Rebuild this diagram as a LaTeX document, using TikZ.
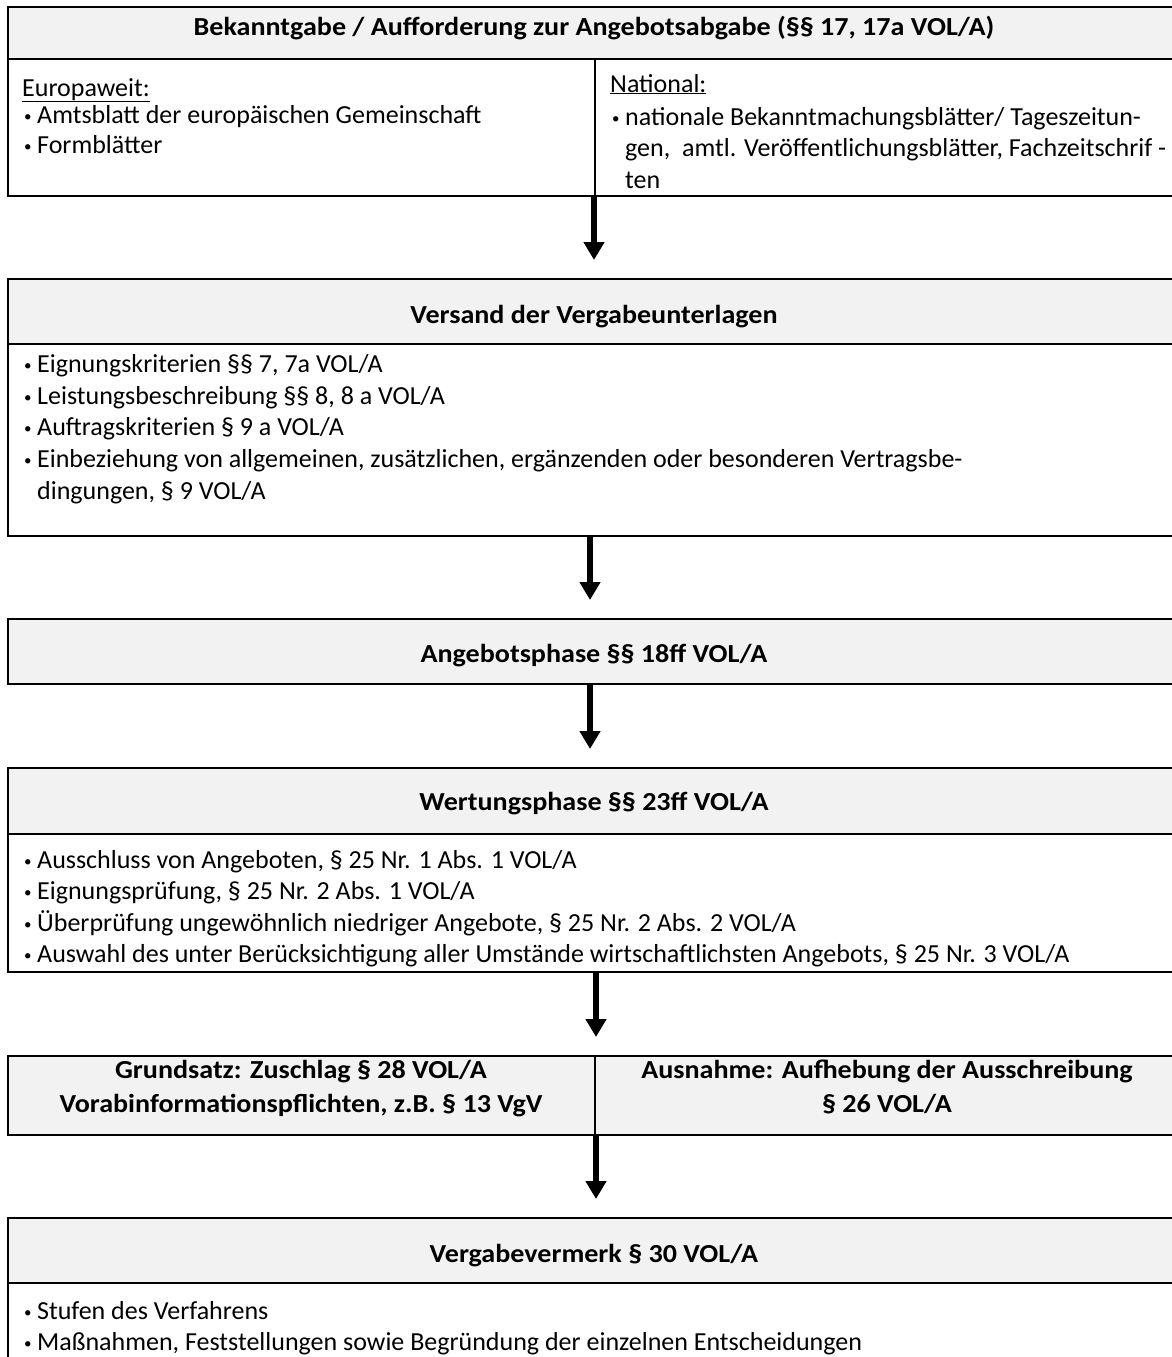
\documentclass[tikz,border=0pt]{standalone}
\usepackage{fontspec}
\setmainfont{Carlito}
\newfontfamily\hdfont{Carlito}[FakeStretch=1.08]
\usetikzlibrary{arrows.meta}
\definecolor{hdgray}{HTML}{F2F2F2}
\newcommand\bul{\makebox[13pt][l]{\raisebox{1.8pt}{\fontsize{15}{15}\selectfont •}}}
\tikzset{
  frame/.style={draw=black, line width=2.6pt, inner sep=0pt, outer sep=0pt, minimum width=1172pt},
  hdbox/.style={frame, fill=hdgray},
  bodybox/.style={frame, fill=white},
  divline/.style={draw=black, line width=1.5pt},
  hd/.style={anchor=base, inner sep=0pt, font=\fontsize{26}{31}\selectfont\hdfont\bfseries},
  tx/.style={anchor=base west, inner sep=0pt, font=\fontsize{26}{31}\selectfont},
  arr/.style={draw=black, line width=5.5pt, -{Triangle[length=18pt,width=20pt]}, shorten >=19pt},
}
\begin{document}
\begin{tikzpicture}[x=1pt,y=-1pt]
\useasboundingbox (0,0) rectangle (1172,1357);
\clip (0,0) rectangle (1172,1357);
% arrow x positions
\coordinate (ax1) at (594,0);
\coordinate (ax2) at (590,0);
\coordinate (ax4) at (596,0);

% ---------- Box 1
\node[bodybox, minimum height=137pt] (b1) at (594,127.5) {};
\node[hdbox, minimum height=52pt] (h1) at (594,33) {};
\draw[divline] (595,59) -- (595,196);
\node[hd] (t1) at (594,35) {Bekanntgabe / Aufforderung zur Angebotsabgabe (§§ 17, 17a VOL/A)};
\node[tx] (e0) at (22,96) {\underline{Europaweit:}};
\node[tx] (e1) at (24,123) {\bul Amtsblatt der europäischen Gemeinschaft};
\node[tx] (e2) at (24,153) {\bul Formblätter};
\node[tx] (n0) at (610,92) {\underline{National:}};
\node[tx] (n1) at (612,125) {\bul nationale Bekanntmachungsblätter/ Tageszeitun-};
\node[tx] (n2) at (625,156) {gen,\ \ amtl. Veröffentlichungsblätter, Fachzeitschrif -};
\node[tx] (n3) at (625,188) {ten};

% ---------- Box 2
\node[bodybox, minimum height=192pt] (b2) at (594,440) {};
\node[hdbox, minimum height=65pt] (h2) at (594,311.5) {};
\node[hd] (t2) at (594,323) {Versand der Vergabeunterlagen};
\node[tx] (v1) at (24,372) {\bul Eignungskriterien §§ 7, 7a VOL/A};
\node[tx] (v2) at (24,404) {\bul Leistungsbeschreibung §§ 8, 8 a VOL/A};
\node[tx] (v3) at (24,435) {\bul Auftragskriterien § 9 a VOL/A};
\node[tx] (v4) at (24,467) {\bul Einbeziehung von allgemeinen, zusätzlichen, ergänzenden oder besonderen Vertragsbe-};
\node[tx] (v5) at (37,499) {dingungen, § 9 VOL/A};

% ---------- Box 3
\node[hdbox, minimum height=65pt] (b3) at (594,651.5) {};
\node[hd] (t3) at (594,662) {Angebotsphase §§ 18ff VOL/A};

% ---------- Box 4
\node[bodybox, minimum height=138pt] (b4) at (594,903) {};
\node[hdbox, minimum height=66pt] (h4) at (594,801) {};
\node[hd] (t4) at (594,810) {Wertungsphase §§ 23ff VOL/A};
\node[tx] (w1) at (24,868) {\bul Ausschluss von Angeboten, § 25 Nr. 1 Abs. 1 VOL/A};
\node[tx] (w2) at (24,899.5) {\bul Eignungsprüfung, § 25 Nr. 2 Abs. 1 VOL/A};
\node[tx] (w3) at (24,931) {\bul Überprüfung ungewöhnlich niedriger Angebote, § 25 Nr. 2 Abs. 2 VOL/A};
\node[tx] (w4) at (24,962) {\bul Auswahl des unter Berücksichtigung aller Umstände wirtschaftlichsten Angebots, § 25 Nr. 3 VOL/A};

% ---------- Box 5
\node[hdbox, minimum height=79pt] (b5) at (594,1095.5) {};
\draw[divline] (595,1056) -- (595,1135);
\node[hd] (g1) at (301,1078) {Grundsatz: Zuschlag § 28 VOL/A};
\node[hd] (g2) at (301,1112) {Vorabinformationspflichten, z.B. § 13 VgV};
\node[hd] (a1) at (887,1078) {Ausnahme: Aufhebung der Ausschreibung};
\node[hd] (a2) at (887,1112) {§ 26 VOL/A};

% ---------- Box 6
\node[bodybox, minimum height=97pt] (b6) at (594,1331.5) {};
\node[hdbox, minimum height=65pt] (h6) at (594,1250.5) {};
\node[hd] (t6) at (594,1262) {Vergabevermerk § 30 VOL/A};
\node[tx] (s1) at (24,1319) {\bul Stufen des Verfahrens};
\node[tx] (s2) at (24,1350) {\bul Maßnahmen, Feststellungen sowie Begründung der einzelnen Entscheidungen};

% ---------- Arrows
\draw[arr] (b1.south -| ax1) -- (h2.north -| ax1);
\draw[arr] (b2.south -| ax2) -- (b3.north -| ax2);
\draw[arr] (b3.south -| ax2) -- (h4.north -| ax2);
\draw[arr] (b4.south -| ax4) -- (b5.north -| ax4);
\draw[arr] (b5.south -| ax4) -- (h6.north -| ax4);
\end{tikzpicture}
\end{document}
